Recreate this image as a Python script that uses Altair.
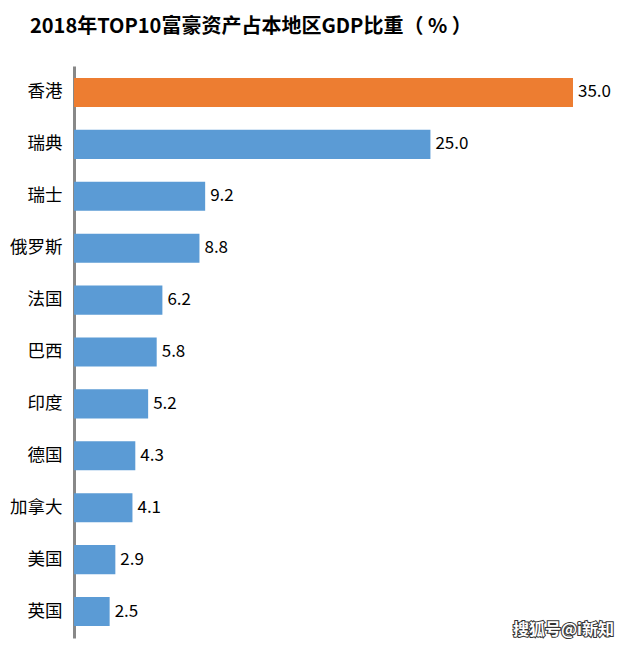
import altair as alt
import pandas as pd

regions = ["香港", "瑞典", "瑞士", "俄罗斯", "法国", "巴西", "印度", "德国", "加拿大", "美国", "英国"]
values = [35.0, 25.0, 9.2, 8.8, 6.2, 5.8, 5.2, 4.3, 4.1, 2.9, 2.5]
highlight = ["香港"]

df = pd.DataFrame({"region": regions, "value": values})
df["label"] = [f"{v:.1f}" for v in values]
df["hl"] = ["hl" if r in highlight else "n" for r in regions]

FONT = "Noto Sans CJK SC"

y_enc = alt.Y("region:N", sort=regions,
              scale=alt.Scale(paddingInner=0.44, paddingOuter=0.23),
              axis=alt.Axis(title=None, ticks=False, grid=False, domainColor="#888888",
                            domainWidth=3, labelFontSize=17.5, labelColor="#000000",
                            labelFont=FONT, labelPadding=12))
x_enc = alt.X("value:Q", scale=alt.Scale(domain=[0, 35], nice=False), axis=None)

bars = alt.Chart(df).mark_bar().encode(
    x=x_enc, y=y_enc,
    color=alt.Color("hl:N", scale=alt.Scale(domain=["hl", "n"], range=["#ED7D31", "#5B9BD5"]), legend=None),
)

labels = alt.Chart(df).mark_text(align="left", baseline="middle", dx=5, fontSize=17,
                                 font=FONT, color="#000000").encode(
    x=x_enc, y=alt.Y("region:N", sort=regions), text="label:N"
)

wm_df = pd.DataFrame({"t": ["搜狐号@i新知"]})
wm_shadow = alt.Chart(wm_df).mark_text(align="left", baseline="middle", fontSize=16, fontWeight="bold",
                                       font=FONT, color="#333333", stroke="#333333", strokeWidth=2).encode(
    x=alt.value(439), y=alt.value(564), text="t:N")
wm = alt.Chart(wm_df).mark_text(align="left", baseline="middle", fontSize=16, fontWeight="bold",
                                font=FONT, color="#ffffff").encode(
    x=alt.value(439), y=alt.value(564), text="t:N")

chart = alt.layer(bars, labels, wm_shadow, wm).properties(
    width=499, height=572,
    autosize=alt.AutoSizeParams(type="none"),
    padding={"left": 66, "top": 58, "right": 44, "bottom": 8},
    title=alt.TitleParams("2018年TOP10富豪资产占本地区GDP比重（ % ）", anchor="start", dx=-44,
                          fontSize=20, fontWeight="bold", font=FONT, color="#000000",
                          offset=29, frame="group"),
).configure_view(stroke=None)

chart.save("out.html", embed_options={"renderer": "svg", "actions": False})
